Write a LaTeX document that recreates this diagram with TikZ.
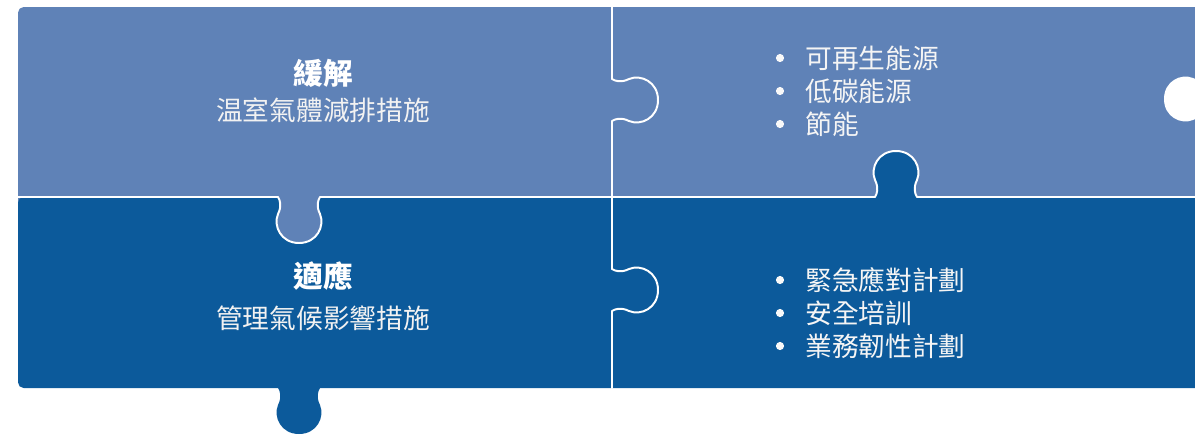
\documentclass[tikz,border=0pt]{standalone}
\usepackage{fontspec}
\newfontfamily\cjk{Noto Sans CJK TC}
\definecolor{mitblue}{HTML}{5F82B7}
\definecolor{adpblue}{HTML}{0C5A9B}
% one puzzle tab, neck on the x axis, bulb towards +y
\newcommand{\tabshape}{(-21,0) .. controls (-19,3) and (-17,9) .. (-21,17) .. controls (-26,29) and (-18,46) .. (0,46) .. controls (18,46) and (26,29) .. (21,17) .. controls (17,9) and (19,3) .. (21,0)}
\tikzset{
  seam/.style={white, line width=1.4pt, line cap=round},
  head/.style={white, font=\cjk\bfseries\fontsize{21}{24}\selectfont},
  sub/.style={white!90!gray, font=\cjk\fontsize{19}{22}\selectfont},
  item/.style={white!92!gray, font=\cjk\fontsize{19}{22}\selectfont, anchor=west, inner sep=0pt},
  dot/.style={fill=white!95!gray}
}
\begin{document}
\begin{tikzpicture}[x=0.025cm, y=-0.025cm]
  \useasboundingbox (0,0) rectangle (1195,435);
  \clip (0,0) rectangle (1195,435);

  % the two rows
  \fill[mitblue, rounded corners=4pt] (18,7) rectangle (1260,240);
  \fill[adpblue, rounded corners=4pt] (18,197) rectangle (1260,388);

  % tabs
  \begin{scope}[shift={(299,197)}]
    \fill[mitblue] \tabshape -- cycle;
    \draw[seam] \tabshape;
  \end{scope}
  \begin{scope}[shift={(896,197)}, yscale=-1]
    \fill[adpblue] \tabshape -- cycle;
    \draw[seam] \tabshape;
  \end{scope}
  \begin{scope}[shift={(299,388)}]
    \fill[adpblue] \tabshape -- cycle;
  \end{scope}
  \begin{scope}[shift={(1210,99)}, rotate=-90]
    \fill[white] \tabshape -- cycle;
  \end{scope}
  \foreach \y in {100,290}
  {
    \begin{scope}[shift={(612,\y)}, rotate=90]
      \draw[seam] \tabshape;
    \end{scope}
  }

  % seams
  \draw[seam] (18,197) -- (278,197);
  \draw[seam] (320,197) -- (875,197);
  \draw[seam] (917,197) -- (1195,197);
  \draw[seam] (612,7) -- (612,79);
  \draw[seam] (612,121) -- (612,269);
  \draw[seam] (612,311) -- (612,388);

  % texts
  \node[head] (mit) at (323,73) {緩解};
  \node[sub] (mitsub) at (323,110) {温室氣體減排措施};
  \node[head] (adp) at (323,276) {適應};
  \node[sub] (adpsub) at (323,318) {管理氣候影響措施};

  \foreach \t [count=\i] in {可再生能源,低碳能源,節能}
  {
    \node[item] (m\i) at (805,25+33*\i) {\t};
    \fill[dot] ([xshift=-0.625cm]m\i.west) circle (2.9pt);
  }
  \foreach \t [count=\i] in {緊急應對計劃,安全培訓,業務韌性計劃}
  {
    \node[item] (a\i) at (805,247+33*\i) {\t};
    \fill[dot] ([xshift=-0.625cm]a\i.west) circle (2.9pt);
  }
\end{tikzpicture}
\end{document}
